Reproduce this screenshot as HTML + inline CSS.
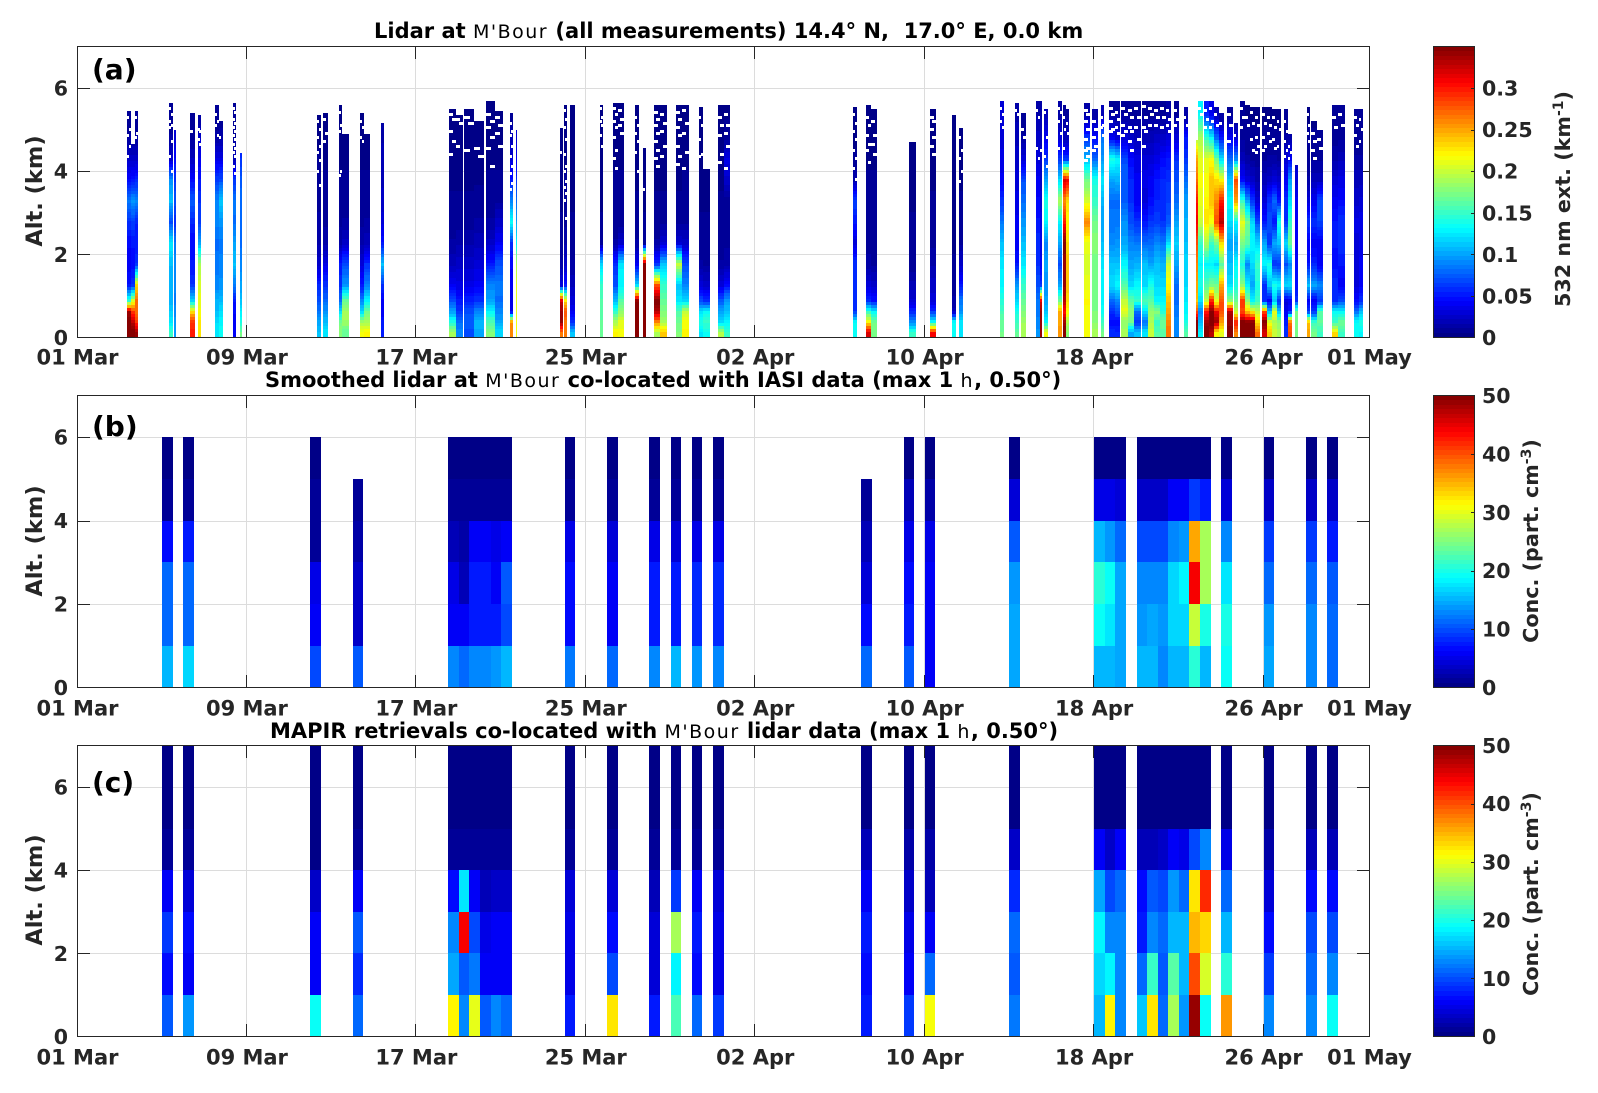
<!DOCTYPE html>
<html lang="en">
<head>
<meta charset="utf-8">
<title>Lidar and MAPIR at M'Bour</title>
<style>
html,body{margin:0;padding:0;background:#fff;}
svg{display:block;}
text{font-family:"DejaVu Sans","Liberation Sans",sans-serif;}
.title{font-size:21px;font-weight:bold;fill:#000;}
.title .st{font-size:19px;font-weight:normal;letter-spacing:1.5px;}
.tag{font-size:28px;font-weight:bold;fill:#000;}
.tick{font-size:20.5px;font-weight:bold;fill:#262626;}
.xtick{font-size:21px;font-weight:bold;fill:#262626;}
.axlab{font-size:22.5px;font-weight:bold;fill:#262626;}
.cblab{font-size:20.7px;font-weight:bold;fill:#262626;}
</style>
</head>
<body>
<svg id="fig" xmlns="http://www.w3.org/2000/svg" width="1598" height="1093" viewBox="0 0 1598 1093">
  <rect x="0" y="0" width="1598" height="1093" fill="#fff"/>
  <g id="p-a"></g>
  <g id="p-b"></g>
  <g id="p-c"></g>
  <text class="title" x="374" y="38" xml:space="preserve">Lidar at <tspan class="st">M'Bour</tspan> (all measurements) 14.4° N,  17.0° E, 0.0 km</text>
  <text class="title" x="265" y="387" xml:space="preserve">Smoothed lidar at <tspan class="st">M'Bour</tspan> co-located with IASI data (max 1 <tspan class="st">h</tspan>, 0.50°)</text>
  <text class="title" x="270" y="738" xml:space="preserve">MAPIR retrievals co-located with <tspan class="st">M'Bour</tspan> lidar data (max 1 <tspan class="st">h</tspan>, 0.50°)</text>
  <text class="tag" x="92" y="79">(a)</text>
  <text class="tag" x="92" y="436">(b)</text>
  <text class="tag" x="92" y="792">(c)</text>
  <text class="axlab" transform="translate(42,191) rotate(-90)" text-anchor="middle">Alt. (km)</text>
  <text class="axlab" transform="translate(42,541) rotate(-90)" text-anchor="middle">Alt. (km)</text>
  <text class="axlab" transform="translate(42,890) rotate(-90)" text-anchor="middle">Alt. (km)</text>
  <text class="cblab" transform="translate(1570,199) rotate(-90)" text-anchor="middle">532 nm ext. (km<tspan font-size="14" dy="-7">-1</tspan><tspan dy="7">)</tspan></text>
  <text class="cblab" transform="translate(1538,541) rotate(-90)" text-anchor="middle">Conc. (part. cm<tspan font-size="14" dy="-7">-3</tspan><tspan dy="7">)</tspan></text>
  <text class="cblab" transform="translate(1538,894) rotate(-90)" text-anchor="middle">Conc. (part. cm<tspan font-size="14" dy="-7">-3</tspan><tspan dy="7">)</tspan></text>
</svg>
<script>
/* ---------- tick labels ---------- */
const dateTickDays = [0, 8, 16, 24, 32, 40, 48, 56, 61];
const dateTickLabels = ['01 Mar', '09 Mar', '17 Mar', '25 Mar', '02 Apr', '10 Apr', '18 Apr', '26 Apr', '01 May'];
const altTicks = [0, 2, 4, 6];
const extTicks = [0, 0.05, 0.1, 0.15, 0.2, 0.25, 0.3];
const concTicks = [0, 10, 20, 30, 40, 50];

/* ---------- panels (b), (c): half-day bin index of each co-located pass ---------- */
const passBins = [8,10,22,26,35,36,37,38,39,40,46,50,54,56,58,60,74,78,80,88,96,97,98,100,101,102,103,104,105,106,108,112,116,118];

/* Concentration in part. cm-3; one row per pass, layers 0-1, 1-2, ... km */
const concLidar = [
[15.6,11,11,6.8,1,0.5],
[16.5,11.4,11.4,7.5,1,0.5],
[9.8,6,4.8,1.5,1,0.5],
[10.2,3.5,3.5,2,0.8],
[12.5,6,5,3,1,0.5],
[11.7,6,3,2.2,1,0.5],
[12.9,7.8,7.8,5.5,1.5,0.5],
[12.9,7.8,7.8,5.5,1.5,0.5],
[13.7,7.5,6.2,4.8,1,0.5],
[14.9,9.4,10.2,6.2,1.5,0.5],
[12,7,7,5,1.3,0.5],
[11.4,6.2,6.2,4.3,1.2,0.5],
[12.9,7.8,7.8,5,1.2,0.5],
[15.6,7.2,7.2,4.3,1,0.5],
[13.7,8.2,8.2,5,1.2,0.5],
[12.9,8,8,4.8,1.3,0.5],
[11,7,4,3,1.5],
[10.2,7.5,7,4.8,2.4,0.5],
[6.2,6.2,6,4.8,2,0.5],
[14.1,14.1,13.7,10.6,4,0.5],
[15.6,18.75,20.6,15.3,5.4,0.5],
[15.6,17.2,18.75,13.7,5.4,0.5],
[14.1,14.5,14.5,11,4.6,0.5],
[14.9,13.7,12.5,9.4,3.75,0.5],
[14.9,14.5,12.9,9.8,3.75,0.5],
[12.5,13.7,12.9,9.8,3.75,0.5],
[14.9,16.5,16.5,12.5,5.5,0.5],
[15.6,16.5,18,13.7,5.5,0.5],
[20.6,28.75,43.75,35.9,9,0.5],
[15.6,20,26.6,26.6,7.8,0.5],
[18.75,20,17.6,12.9,4.6,0.5],
[14.1,13.3,11.4,8.6,3.75,0.5],
[12.5,12.5,11.7,8.6,3.75,0.5],
[11.7,11.4,10.6,7.8,3.75,0.5]
];
const concMapir = [
[10.2,7,9,6,0.8,0.5,0.5],
[14,5.5,7,4.3,0.8,0.5,0.5],
[18.75,5.5,5.5,3.2,0.5,0.5,0.5],
[11.7,8,10.2,6.2,0.8,0.5,0.5],
[31.25,14.5,12.9,7,1.5,0.5,0.5],
[12.5,10.2,43.75,17.2,1.5,0.5,0.5],
[30,12,9.4,5.5,1.5,0.5,0.5],
[10.2,5.5,4.8,3,0.8,0.5,0.5],
[12.5,6,6.2,3.8,0.8,0.5,0.5],
[11,6.2,6.2,3.8,0.8,0.5,0.5],
[7.8,5,5,4.3,1,0.5,0.5],
[32.5,9.4,7,4.3,1,0.5,0.5],
[7.8,4.3,4.3,3,1,0.5,0.5],
[22,18,26.6,8.6,1.3,0.5,0.5],
[11.7,7,7.8,5.5,1,0.5,0.5],
[8.6,4.8,4.8,4,0.8,0.5,0.5],
[7.8,7,7.8,6.2,2.4,0.5,0.5],
[8.6,6.2,5,3.2,2,0.5,0.5],
[30.5,11,5.5,2.5,1.8,0.5,0.5],
[12,10.6,11,8,3.5,0.5,0.5],
[15.6,17,18,14.5,5.5,0.5,0.5],
[31.25,18,12.5,9.8,3.8,0.5,0.5],
[12.5,12.5,12.5,11.7,6.2,0.5,0.5],
[16,11,7.8,7,3,0.5,0.5],
[32.5,21.5,12.9,10.2,3,0.5,0.5],
[11.7,10.2,11,9.4,3.5,0.5,0.5],
[26.6,23,15.6,14,6.2,0.5,0.5],
[13.3,14.9,15.6,11.7,4.8,0.5,0.5],
[48.5,40,35,32.5,9.4,0.5,0.5],
[18.75,29.5,33,41.5,12.5,0.5,0.5],
[36,20.5,15.6,11.7,4.8,0.5,0.5],
[12.9,9,7,4.3,1.8,0.5,0.5],
[12.5,11.7,9.4,7,3,0.5,0.5],
[19.5,12.5,9.8,7,2.5,0.5,0.5]
];

/* ---------- panel (a): lidar profiles ---------- */
/* altitude layer lower edges (km); last layer runs to the profile top */
const lidarLayerBase = [0,0.25,0.5,0.75,1,1.5,2,2.5,3,3.5,4,4.5,5];
const lidarStart = [2.32,2.51,2.70,4.30,4.54,5.29,5.67,6.47,6.66,7.32,7.65,11.29,11.57,12.33,12.47,13.32,13.55,14.31,17.52,17.85,18.27,18.70,19.31,19.69,20.40,20.68,22.80,22.99,23.27,24.65,25.26,25.54,26.30,26.72,27.24,27.52,28.28,28.56,29.32,29.55,30.26,30.54,36.63,37.24,37.48,39.28,40.27,41.30,41.63,43.57,44.27,44.56,45.27,45.46,45.65,46.31,46.54,46.68,47.54,47.92,48.34,48.72,49.00,49.28,49.61,49.89,50.27,50.55,50.83,51.12,51.40,51.78,52.25,52.82,52.91,53.19,53.43,53.66,53.90,54.28,54.61,54.90,55.13,55.37,55.60,55.94,56.17,56.41,56.65,56.97,57.16,57.49,58.05,58.24,58.53,59.24,59.52,60.27,60.51];
const lidarEnd = [2.51,2.70,2.84,4.49,4.63,5.53,5.81,6.66,6.85,7.47,7.75,11.48,11.85,12.47,12.80,13.55,13.79,14.45,17.85,18.18,18.70,19.17,19.69,20.07,20.54,20.73,22.90,23.13,23.51,24.83,25.54,25.82,26.53,26.86,27.52,27.81,28.56,28.85,29.55,29.84,30.54,30.83,36.82,37.48,37.76,39.61,40.55,41.49,41.82,43.76,44.46,44.80,45.46,45.56,45.84,46.50,46.68,46.83,47.82,48.20,48.48,49.00,49.24,49.61,49.89,50.22,50.55,50.83,51.12,51.40,51.64,52.02,52.44,52.91,53.15,53.43,53.66,53.90,54.14,54.57,54.80,55.13,55.37,55.60,55.84,56.17,56.41,56.65,56.84,57.16,57.35,57.63,58.20,58.53,58.81,59.52,59.85,60.51,60.70];
const lidarTop = [5.45,4.65,5.45,5.65,5.0,5.4,5.35,5.6,5.2,5.65,4.45,5.35,5.4,5.6,4.9,5.4,4.9,5.15,5.5,5.35,5.5,5.2,5.7,5.45,5.4,5.0,5.05,5.6,5.6,5.6,5.65,5.65,5.6,4.55,5.6,5.6,5.6,5.6,5.55,4.05,5.6,5.6,5.55,5.6,5.5,4.7,5.5,5.35,5.05,5.7,5.65,5.4,5.7,5.7,5.5,5.7,5.6,5.5,5.65,5.5,5.6,5.7,5.7,5.7,5.7,5.7,5.7,5.7,5.7,5.7,5.7,5.7,5.55,4.75,5.7,5.7,5.7,5.55,5.4,5.55,5.15,5.7,5.6,5.55,5.55,5.55,5.55,5.5,5.5,5.5,4.9,4.15,5.55,5.2,5.0,5.6,5.6,5.5,5.5];
/* extinction (10^-3 km-1), one row per profile, one value per layer */
const lidarExt = [
[350,350,340,150,50,40,45,60,85,45,25,12,8],
[350,330,290,210,60,45,50,65,95,50,25,12,8],
[340,290,270,270,230,60,50,55,90,55,25,12,8],
[150,125,115,105,105,110,125,70,110,95,25,12,6],
[95,95,90,85,90,90,85,55,70,60,45,30,25],
[300,290,230,120,60,50,45,55,75,45,22,10,6],
[225,225,215,210,205,190,100,65,60,50,40,25,12],
[125,120,110,105,90,85,80,90,90,65,35,12,8],
[135,130,120,110,95,90,85,95,115,70,35,15,8],
[40,40,45,50,85,110,100,80,85,60,20,10,8],
[170,140,125,110,100,90,80,80,80,75,60,45,40],
[110,100,85,70,55,25,15,12,10,8,6,5,5],
[125,110,95,80,60,35,15,10,8,6,5,5,5],
[180,170,120,80,60,50,15,10,8,6,5,5,5],
[165,185,190,170,95,70,25,12,8,6,5,5,5],
[215,190,120,90,50,30,15,10,8,6,5,5,5],
[220,190,170,130,90,60,20,12,8,6,5,5,5],
[50,50,40,40,60,110,50,30,25,20,20,15,12],
[190,140,100,70,40,20,12,8,6,5,5,5,5],
[90,80,60,50,35,25,15,8,6,5,5,5,5],
[70,75,70,55,35,25,15,8,6,5,5,5,5],
[100,110,90,60,40,30,20,12,8,5,5,5,5],
[175,160,130,100,90,50,25,12,8,6,5,5,5],
[120,100,90,80,85,70,40,25,10,6,5,5,5],
[260,260,35,35,40,45,60,135,90,50,30,20,8],
[215,215,210,210,210,190,130,100,80,60,40,30,25],
[265,340,340,330,30,12,8,6,5,5,5,5,5],
[265,265,280,230,50,25,15,10,8,6,5,5,5],
[110,60,40,30,20,12,8,6,5,5,5,5,5],
[165,165,160,160,150,120,8,6,5,5,5,5,5],
[220,190,150,110,70,60,12,8,6,6,5,5,5],
[215,210,180,160,130,125,25,8,6,6,5,5,5],
[350,350,350,350,120,40,12,8,6,5,5,5,5],
[350,350,350,350,350,350,8,6,5,5,5,5,5],
[190,260,330,350,280,60,12,8,6,5,5,5,5],
[240,190,175,165,150,110,30,10,6,5,5,5,5],
[175,170,160,125,110,200,30,8,6,5,5,5,5],
[220,215,200,120,90,70,25,10,8,6,5,5,5],
[125,140,120,70,30,12,8,6,5,5,5,5,5],
[135,150,130,60,25,10,8,6,5,5,5,5,5],
[195,120,100,75,30,12,8,6,6,5,5,5,5],
[150,130,110,100,45,15,10,8,8,25,35,8,5],
[135,135,60,60,60,60,30,50,65,15,6,5,5],
[320,220,150,60,30,12,10,8,8,6,5,5,5],
[170,170,130,50,25,10,8,6,6,6,5,5,5],
[150,90,55,30,18,8,6,6,5,5,5,5,5],
[310,135,60,30,25,15,10,8,6,5,5,5,5],
[135,135,20,12,8,6,5,5,5,5,5,5,5],
[125,125,95,85,50,25,10,8,6,5,5,5,5],
[170,165,155,145,130,125,110,85,60,40,35,30,30],
[165,150,140,120,95,50,40,40,35,30,25,20,15],
[190,185,175,165,150,125,110,95,80,70,30,12,8],
[95,90,85,85,70,60,60,50,45,40,30,25,15],
[340,340,340,320,60,40,35,35,30,25,25,20,15],
[215,130,110,100,95,100,90,130,140,100,60,40,20],
[255,250,250,170,100,70,100,130,190,120,60,30,12],
[350,340,300,330,340,340,350,300,260,320,60,20,10],
[180,190,220,230,240,240,230,220,230,310,60,20,10],
[215,215,215,220,210,205,210,260,205,170,110,60,12],
[190,180,175,170,175,170,180,170,150,140,80,45,15],
[170,150,135,130,130,125,110,100,105,125,95,85,20],
[60,45,60,80,120,110,90,85,80,100,140,40,10],
[55,45,70,90,130,110,95,85,80,105,130,30,10],
[190,180,210,200,160,130,100,95,75,75,70,30,10],
[100,170,180,165,120,100,90,70,60,55,45,25,8],
[110,60,80,150,130,105,85,60,40,40,35,20,8],
[125,80,120,160,120,110,80,50,30,35,30,20,10],
[200,190,180,160,140,100,80,60,45,40,30,20,8],
[160,150,180,130,120,110,90,65,55,50,35,25,8],
[160,170,145,130,120,105,85,60,55,55,45,25,8],
[265,260,250,240,220,200,120,75,65,60,50,30,12],
[90,90,85,80,80,100,115,100,80,70,60,30,8],
[160,140,130,125,120,120,110,105,100,80,60,50,12],
[350,350,280,240,250,260,280,310,300,270,250,190,40],
[130,110,90,120,140,130,150,200,210,215,210,190,130],
[350,340,300,200,160,130,190,230,220,215,210,150,50],
[330,350,345,300,170,130,150,215,240,240,215,130,35],
[220,340,310,210,170,120,170,280,260,230,170,80,20],
[210,250,280,280,250,160,230,330,300,220,120,50,12],
[350,340,330,180,120,110,100,120,130,110,80,40,10],
[260,300,200,170,140,130,100,130,250,280,90,30,10],
[350,350,280,290,180,140,170,210,150,45,20,10,6],
[350,350,240,180,130,90,160,170,100,30,12,8,5],
[350,350,220,130,100,120,130,120,60,25,10,6,5],
[270,230,200,150,140,150,120,70,30,15,8,6,5],
[320,350,280,60,60,130,100,50,30,20,10,6,5],
[240,210,110,40,110,140,60,70,60,25,12,6,5],
[200,190,210,110,140,60,100,50,80,30,12,6,5],
[190,180,110,60,130,60,110,140,50,25,10,6,5],
[60,50,40,30,120,70,120,60,60,40,30,12,6],
[280,270,50,40,120,90,170,150,120,100,40,15,6],
[170,170,170,60,45,45,40,40,40,30,25,20,20],
[250,240,60,40,110,50,40,60,30,12,8,6,5],
[170,150,60,40,100,55,40,60,40,20,10,6,5],
[150,165,160,60,90,40,40,65,70,20,10,6,5],
[230,150,130,60,60,45,50,50,40,30,15,8,6],
[150,170,130,70,40,50,60,60,45,35,20,10,6],
[135,135,80,45,30,30,30,35,25,20,12,8,6],
[130,140,110,60,40,40,35,35,30,20,12,8,6]
];
/* altitudes (km) of missing-data specks in each profile */
const lidarGaps = [
[5.3,5.0,4.85,4.6,4.35],[],[5.3,4.9,4.8],[5.5,5.35,5.2,5.1,5.05,4.7,4.35,4.0],[],[4.95],[5.0,4.95,4.75,4.65],[5.35,5.2,5.1,4.85],[4.8],
[5.5,5.4,5.25,5.15,5.05,4.95,4.85,4.75,4.65,4.55,4.45,4.35,4.1,3.95],[],[5.2,5.0,4.8,4.6,4.45,4.25,4.0,3.65],[5.25,4.9,4.7],[5.4,5.1,4.95,4.0,3.9],[],[5.2,5.05,4.8,4.7],[],[],
[5.35,5.25,4.95,4.7,4.4],[5.25,5.15,4.6],[5.3,5.15,4.5],[4.55,4.35],[5.35,5.2,5.05,4.8,4.55,4.1],[5.3,5.1,4.9,4.6],[5.15,4.95,4.85,4.6,4.35,4.1,3.95,3.7,3.55],[],
[4.45],[5.45,5.25,5.05,4.75,4.4,4.1,4.0,3.75,3.6,3.45,3.3,2.85],[],[5.5,5.3,5.2,5.1,4.85,4.6],[5.5,5.35,5.2,5.05,4.8,4.5,4.3,4.05],[5.45,5.25,5.1,4.9],[5.3,5.1,4.9,4.7,4.45,4.0],[3.55],
[5.4,5.25,5.1,4.9,4.7,4.5,4.3,4.1],[5.35,5.15,4.95,4.6,4.35],[5.4,5.25,5.05,4.85,4.6,4.35,4.15],[5.45,5.15,4.9,4.45,4.05],[5.3,5.1,4.75,4.4,4.35],[],[5.3,5.1,4.85,4.4,4.2],[5.35,5.1,4.9,4.6,4.05],
[5.35,5.15,4.95,4.75,4.5,4.3,4.05,3.8],[5.3,5.1,4.85,4.65,4.5,4.2],[5.2,4.85,4.65,4.4],[],[5.3,5.2,5.0,4.8,4.6,4.4],[],[4.8,4.5,4.3,4.0,3.75],
[5.5,5.35,5.2,5.05],[5.45,5.35],[5.0,4.8],[5.45,5.3,4.55,4.3],[4.5],[5.4,4.8,4.35,4.1],[5.5,5.4,5.2,4.9,4.55],[5.3,5.0,4.55],[5.15,4.9],
[5.45,5.35,5.2,5.0,4.75,4.55,4.5,4.35,4.25],[5.2,5.0,4.8,4.6,4.5],[5.3,5.1,5.05,4.85],
[5.5,5.35,5.2,5.0,4.95],[5.4,5.25,5.05,4.9],[5.5,5.35,5.1,4.95,4.85],[5.45,5.3,5.05,4.95,4.7,4.5],[5.5,5.3,5.05,4.75],[5.55,5.3,5.05,4.95,4.6],[5.5,5.35,5.1],[5.45,5.3,5.1],[5.5,5.3,5.05],[5.45,5.25,5.1,4.95],[5.45,5.25,5.1],[5.3,5.1],
[],[5.5,5.35],[5.45,5.25,5.05],[5.5,5.2,5.05],[5.35,5.1],[5.15],[5.35,5.1,4.7],[4.85],[5.5,5.3,5.05],[5.3,5.1],[5.4,5.15,4.75,4.5],[5.3,5.1,4.8,4.6,4.45],
[5.35,5.15,4.8,4.6,4.5],[5.3,5.1,4.9,4.7],[5.3,5.05,4.75,4.55],[5.2,5.0,4.6],[5.2,4.95,4.7,4.5,4.35],[4.6,4.45,4.3],[],[5.35,5.1,4.9,4.7],[4.9,4.7,4.5,4.3],[4.75,4.55],[5.3,5.05],[5.35,5.1],[5.3,5.1,4.85,4.6],[5.25,5.0,4.7]
];

/* ---------- geometry / helpers ---------- */
const SVGNS = 'http://www.w3.org/2000/svg';
const X0 = 77.5, X1 = 1369.5, DAYS = 61;
const panelBox = { a: [46.5, 337.5], b: [395.5, 687.5], c: [745.5, 1036.5] };
const xLabelDrop = { a: 27, b: 28, c: 28 };
const CB_L = 1433.5, CB_R = 1474.5;
const xDay = d => X0 + d * (X1 - X0) / DAYS;
const altScale = (key) => (km) => panelBox[key][1] - km * (panelBox[key][1] - panelBox[key][0]) / 7;

function jet(frac) {
  const i = Math.min(63, Math.max(0, Math.floor(frac * 64)));
  const t = (i + 0.5) / 64;
  const c = v => Math.round(255 * Math.max(0, Math.min(1, v)));
  const r = c(Math.min(4 * t - 1.5, -4 * t + 4.5));
  const g = c(Math.min(4 * t - 0.5, -4 * t + 3.5));
  const b = c(Math.min(4 * t + 0.5, -4 * t + 2.5));
  return 'rgb(' + r + ',' + g + ',' + b + ')';
}
function mk(tag, parent, attrs) {
  const el = document.createElementNS(SVGNS, tag);
  for (const k in attrs) el.setAttribute(k, attrs[k]);
  parent.appendChild(el);
  return el;
}
function rectBetween(parent, x0, x1, y0, y1, fill) {
  const r = mk('rect', parent, { x: x0, y: y0, width: x1 - x0, height: y1 - y0, fill: fill, 'shape-rendering': 'crispEdges' });
  return r;
}
const STROKE = '#262626', GRID = '#dcdcdc', TICK = 12.5;

function drawBackdrop(key, parent) {
  const top = panelBox[key][0], bot = panelBox[key][1], y = altScale(key);
  altTicks.forEach(function (km) {
    if (km === 0) return;
    const g = mk('line', parent, { x1: X0, x2: X1, y1: Math.round(y(km)) + 0.5, y2: Math.round(y(km)) + 0.5, stroke: GRID, 'stroke-width': 1 });
    
    
    const l = mk('line', parent, { x1: X0, x2: X0 + TICK, y1: Math.round(y(km)) + 0.5, y2: Math.round(y(km)) + 0.5, stroke: STROKE, 'stroke-width': 1 });
    
    
    const rt = mk('line', parent, { x1: X1 - TICK, x2: X1, y1: Math.round(y(km)) + 0.5, y2: Math.round(y(km)) + 0.5, stroke: STROKE, 'stroke-width': 1 });
    
    
  });
  dateTickDays.forEach(function (d) {
    const px = Math.round(xDay(d)) - 0.5;
    if (d === 0 || d === DAYS) return;
    const g = mk('line', parent, { x1: px, x2: px, y1: top, y2: bot, stroke: GRID, 'stroke-width': 1 });
    
    
    const a = mk('line', parent, { x1: px, x2: px, y1: top, y2: top + TICK, stroke: STROKE, 'stroke-width': 1 });
    
    
    const b = mk('line', parent, { x1: px, x2: px, y1: bot - TICK, y2: bot, stroke: STROKE, 'stroke-width': 1 });
    
    
  });
}
function drawFrameAndLabels(key, parent) {
  const top = panelBox[key][0], bot = panelBox[key][1], y = altScale(key);
  const f = mk('rect', parent, { x: X0, y: top, width: X1 - X0, height: bot - top, fill: 'none', stroke: STROKE, 'stroke-width': 1 });
  
  
  altTicks.forEach(function (km) {
    const t = mk('text', parent, { class: 'tick', x: 68, y: y(km) + 7.5, 'text-anchor': 'end' });
    t.textContent = String(km);
    
    
  });
  dateTickDays.forEach(function (d, i) {
    const t = mk('text', parent, { class: 'xtick', x: xDay(d), y: bot + xLabelDrop[key], 'text-anchor': 'middle' });
    t.textContent = dateTickLabels[i];
    
    
  });
}
function drawColorbar(key, parent, vmax, ticks) {
  const top = panelBox[key][0], bot = panelBox[key][1];
  const cy = v => bot - v / vmax * (bot - top);
  const g = mk('g', parent, {});
  
  
  for (let i = 0; i < 64; i++) {
    const lo = vmax * i / 64, hi = vmax * (i + 1) / 64;
    const b = rectBetween(g, CB_L, CB_R, Math.round(cy(hi)), Math.round(cy(lo)), jet((i + 0.5) / 64));
    
    
  }
  const f = mk('rect', g, { x: CB_L, y: top, width: CB_R - CB_L, height: bot - top, fill: 'none', stroke: STROKE, 'stroke-width': 1 });
  
  
  ticks.forEach(function (v) {
    const py = Math.round(cy(v)) + 0.5;
    if (v !== 0 && v < vmax) {
      const l = mk('line', g, { x1: CB_R - 3.5, x2: CB_R, y1: py, y2: py, stroke: STROKE, 'stroke-width': 1 });
      
      
    }
    const t = mk('text', g, { class: 'tick', x: 1482, y: cy(v) + 7.5 });
    t.textContent = String(v);
    
    
  });
}
function drawPasses(key, parent, rows, vmax) {
  const y = altScale(key);
  const g = mk('g', parent, {});
  
  
  rows.forEach(function (row, p) {
    const x0 = Math.round(xDay(passBins[p] / 2)), x1 = Math.round(xDay((passBins[p] + 1) / 2));
    row.forEach(function (v, k) {
      const c = rectBetween(g, x0, x1, Math.round(y(k + 1)), Math.round(y(k)), jet(v / vmax));
      
      
    });
  });
}
/* colour shading between layer centres, as in the smoothed curtain image */
function lidarValueAt(s, km) {
  const row = lidarExt[s], n = row.length;
  const mid = k => (lidarLayerBase[k] + (k + 1 < n ? lidarLayerBase[k + 1] : Math.max(lidarTop[s], lidarLayerBase[k] + 0.4))) / 2;
  if (km <= mid(0)) return row[0];
  for (let k = 0; k < n - 1; k++) {
    const a = mid(k), b = mid(k + 1);
    if (km <= b) return row[k] + (row[k + 1] - row[k]) * (km - a) / (b - a);
  }
  return row[n - 1];
}
function drawLidar(parent) {
  const y = altScale('a');
  const g = mk('g', parent, {});
  
  
  const ROW_PX = 3;
  lidarExt.forEach(function (row, s) {
    const x0 = Math.round(xDay(lidarStart[s])), x1 = Math.round(xDay(lidarEnd[s]));
    const yTop = Math.round(y(lidarTop[s])), yBot = Math.round(y(0));
    for (let py = yBot; py > yTop; py -= ROW_PX) {
      const upper = Math.max(yTop, py - ROW_PX);
      const km = (yBot - (py + upper) / 2) / (yBot - y(1));
      const c = rectBetween(g, x0, x1, upper, py, jet(lidarValueAt(s, km) / 1000 / 0.35));
      
      
    }
    const w = x1 - x0, part = Math.max(2, Math.round(w * 0.6));
    lidarGaps[s].forEach(function (a, idx) {
      const left = idx % 2 === 0 ? x0 : x1 - part;
      const hole = rectBetween(g, left, left + part, Math.round(y(a + 0.04)), Math.round(y(a + 0.04)) + 3, '#fff');
      
      
    });
  });
}

const pA = document.getElementById('p-a');
const pB = document.getElementById('p-b');
const pC = document.getElementById('p-c');
drawBackdrop('a', pA);
drawBackdrop('b', pB);
drawBackdrop('c', pC);
drawLidar(pA);
drawPasses('b', pB, concLidar, 50);
drawPasses('c', pC, concMapir, 50);
drawFrameAndLabels('a', pA);
drawFrameAndLabels('b', pB);
drawFrameAndLabels('c', pC);
drawColorbar('a', pA, 0.35, extTicks);
drawColorbar('b', pB, 50, concTicks);
drawColorbar('c', pC, 50, concTicks);
</script>
</body>
</html>
